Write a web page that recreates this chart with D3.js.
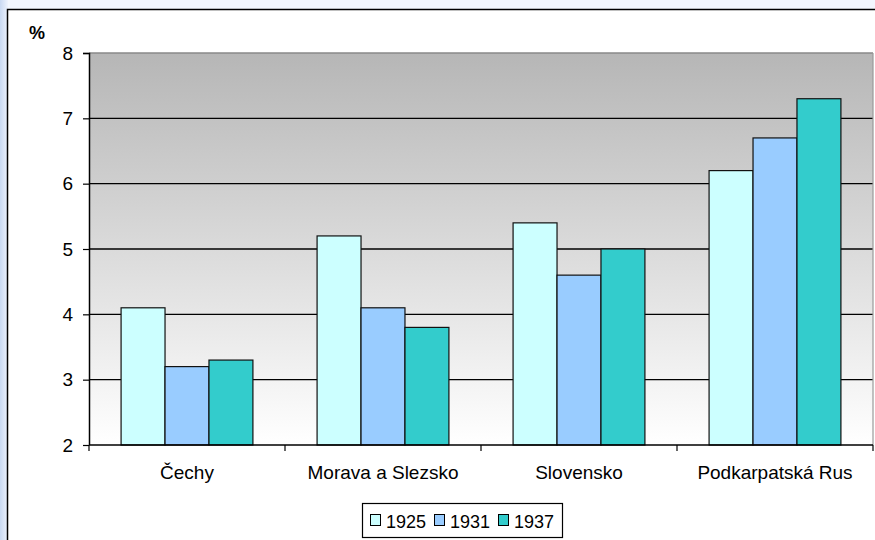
<!DOCTYPE html>
<html>
<head>
<meta charset="utf-8">
<script src="https://cdn.jsdelivr.net/npm/d3@7"></script>
<style>
  body { margin: 0; background: #f3f7fe; }
  svg { display: block; font-family: "Liberation Sans", Arial, sans-serif; }
</style>
</head>
<body>
<svg width="875" height="540"></svg>
<script>
const categories = ['Čechy', 'Morava a Slezsko', 'Slovensko', 'Podkarpatská Rus'];
const years = ['1925', '1931', '1937'];
const values1925 = [4.1, 5.2, 5.4, 6.2];
const values1931 = [3.2, 4.1, 4.6, 6.7];
const values1937 = [3.3, 3.8, 5.0, 7.3];
const yTicks = [2, 3, 4, 5, 6, 7, 8];
const colors = ['#ccffff', '#99ccff', '#33cccc'];

const series = [values1925, values1931, values1937];
const data = categories.map((c, i) => ({
  cat: c,
  vals: years.map((y, j) => ({ year: y, value: series[j][i], color: colors[j] }))
}));

const font = '"Liberation Sans", Arial, sans-serif';
const margin = { left: 89, right: 2, top: 53, bottom: 95 };
const svg = d3.select('svg');
const width = +svg.attr('width');
const height = +svg.attr('height');
const innerWidth = width - margin.left - margin.right;
const innerHeight = height - margin.top - margin.bottom;

// page frame
const defs = svg.append('defs');
const side = defs.append('linearGradient').attr('id', 'side')
  .attr('x1', 0).attr('x2', 1).attr('y1', 0).attr('y2', 0);
side.append('stop').attr('offset', 0).attr('stop-color', '#c9d9f2');
side.append('stop').attr('offset', 1).attr('stop-color', '#eef3fd');
svg.append('rect').attr('x', 0).attr('y', 0).attr('width', 8).attr('height', height)
  .attr('fill', 'url(#side)');
svg.append('rect').attr('x', 7.5).attr('y', 9.5).attr('width', width).attr('height', height)
  .attr('fill', '#fff').attr('stroke', '#000').attr('stroke-width', 1.5);

const plotBg = defs.append('linearGradient').attr('id', 'plotBg')
  .attr('x1', 0).attr('x2', 0).attr('y1', 0).attr('y2', 1);
plotBg.append('stop').attr('offset', 0).attr('stop-color', '#b6b6b6');
plotBg.append('stop').attr('offset', 1).attr('stop-color', '#ffffff');

const g = svg.append('g')
  .attr('transform', `translate(${margin.left},${margin.top})`);

const x0 = d3.scaleBand().domain(categories).range([0, innerWidth]).padding(0);
const x1 = d3.scaleBand().domain(years).range([0, x0.bandwidth()])
  .paddingInner(0).paddingOuter(0.73);
const y = d3.scaleLinear().domain([2, 8]).range([innerHeight, 0]);

g.append('rect').attr('width', innerWidth).attr('height', innerHeight)
  .attr('fill', 'url(#plotBg)');

// gridlines
g.selectAll('.grid').data(yTicks.filter(t => t > 2 && t < 8))
  .enter().append('line')
    .attr('x1', 0).attr('x2', innerWidth)
    .attr('y1', d => y(d)).attr('y2', d => y(d))
    .attr('stroke', '#000').attr('stroke-width', 1.3);
g.append('line').attr('x1', 0).attr('x2', innerWidth)
  .attr('y1', y(8)).attr('y2', y(8)).attr('stroke', '#888').attr('stroke-width', 1.5);
g.append('line').attr('x1', innerWidth).attr('x2', innerWidth)
  .attr('y1', 0).attr('y2', innerHeight).attr('stroke', '#999').attr('stroke-width', 1.2);

// bars
const groups = g.selectAll('.grp').data(data).enter().append('g')
  .attr('transform', d => `translate(${x0(d.cat)},0)`);
groups.selectAll('rect').data(d => d.vals).enter().append('rect')
  .attr('x', d => x1(d.year))
  .attr('y', d => y(d.value))
  .attr('width', x1.bandwidth())
  .attr('height', d => innerHeight - y(d.value))
  .attr('fill', d => d.color)
  .attr('stroke', '#111').attr('stroke-width', 1.2);

// axes
const yAxis = d3.axisLeft(y).tickValues(yTicks).tickSize(6).tickPadding(10)
  .tickFormat(d3.format('d'));
const yAxisG = g.append('g').call(yAxis)
  .attr('font-size', 19).attr('font-family', font);
yAxisG.select('.domain').attr('stroke-width', 1.5).attr('d', `M-6,0.5H0.5V${innerHeight}`);
yAxisG.selectAll('.tick line').attr('stroke-width', 1.2);
yAxisG.selectAll('text').attr('fill', '#000');

const xAxis = d3.axisBottom(x0).tickSize(0).tickPadding(21);
const xAxisG = g.append('g').attr('transform', `translate(0,${innerHeight})`).call(xAxis)
  .attr('font-size', 19).attr('font-family', font);
xAxisG.select('.domain').attr('stroke-width', 1.5).attr('d', `M0,0H${innerWidth}`);
xAxisG.selectAll('text').attr('fill', '#000');
const bounds = categories.map(c => x0(c)).concat([innerWidth]);
xAxisG.selectAll('.sep').data(bounds).enter().append('line')
  .attr('x1', d => d).attr('x2', d => d).attr('y1', 0).attr('y2', 6)
  .attr('stroke', '#000').attr('stroke-width', 1.2);

svg.append('text').attr('x', 29).attr('y', 39).attr('font-family', font)
  .attr('font-size', 18).attr('font-weight', 'bold').text('%');

// legend
const legend = svg.append('g').attr('transform', 'translate(362,503)')
  .attr('font-family', font);
legend.append('rect').attr('x', 0.5).attr('y', 0.5).attr('width', 200).attr('height', 34)
  .attr('fill', '#fff').attr('stroke', '#000').attr('stroke-width', 1.2);
const items = legend.selectAll('.item').data(years).enter().append('g')
  .attr('transform', (d, i) => `translate(${8 + i * 64},0)`);
items.append('rect').attr('x', 0.5).attr('y', 11.5).attr('width', 10).attr('height', 11)
  .attr('fill', (d, i) => colors[i]).attr('stroke', '#000').attr('stroke-width', 1);
items.append('text').attr('x', 16).attr('y', 24.5).attr('font-size', 18).text(d => d);
</script>
</body>
</html>
